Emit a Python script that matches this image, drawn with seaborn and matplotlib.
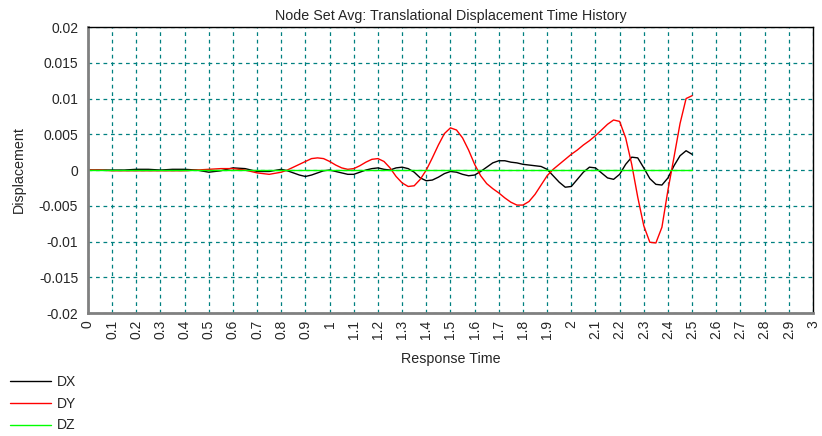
import numpy as np
import pandas as pd
import matplotlib
matplotlib.use("Agg")
import matplotlib.pyplot as plt
from matplotlib.ticker import FuncFormatter
import seaborn as sns

# time samples (s): coarse at the start, finer from 0.825 on
time = [0.0, 0.05, 0.1, 0.15, 0.2, 0.25, 0.3, 0.35, 0.4, 0.45,
        0.5, 0.55, 0.6, 0.65, 0.7, 0.75, 0.8,
        0.825, 0.85, 0.875, 0.9, 0.925, 0.95, 0.975, 1.0,
        1.025, 1.05, 1.075, 1.1, 1.125, 1.15, 1.175, 1.2,
        1.225, 1.25, 1.275, 1.3, 1.325, 1.35, 1.375, 1.4,
        1.425, 1.45, 1.475, 1.5, 1.525, 1.55, 1.575, 1.6,
        1.625, 1.65, 1.675, 1.7, 1.725, 1.75, 1.775, 1.8,
        1.825, 1.85, 1.875, 1.9, 1.925, 1.95, 1.975, 2.0,
        2.025, 2.05, 2.075, 2.1, 2.125, 2.15, 2.175, 2.2,
        2.225, 2.25, 2.275, 2.3, 2.325, 2.35, 2.375, 2.4,
        2.425, 2.45, 2.475, 2.5]

dx = [0.0, 0.0, 0.0, 0.0, 0.0001, 0.0001, 0.0, 0.0001, 0.0001, 0.0,
      -0.0003, -0.0001, 0.0003, 0.0002, -0.0002, -0.0002, 0.0001,
      -0.0001, -0.0004, -0.0007, -0.0009, -0.0007, -0.0004, -0.0001, 0.0,
      -0.0002, -0.0004, -0.0006, -0.0006, -0.0003, 0.0, 0.0002, 0.0003,
      0.0001, 0.0, 0.0003, 0.0004, 0.0002, -0.0003, -0.0011, -0.0015,
      -0.0014, -0.0010, -0.0005, -0.0002, -0.0003, -0.0006, -0.0008, -0.0007,
      -0.0002, 0.0004, 0.0010, 0.0013, 0.0013, 0.0011, 0.0010, 0.0008,
      0.0007, 0.0006, 0.0005, 0.0001, -0.0008, -0.0017, -0.0024, -0.0023,
      -0.0013, -0.0003, 0.0004, 0.0003, -0.0004, -0.0011, -0.0013, -0.0006,
      0.0008, 0.0018, 0.0017, 0.0003, -0.0012, -0.0020, -0.0021, -0.0011,
      0.0006, 0.0020, 0.0027, 0.0022]

dy = [0.0, 0.0, -0.0001, -0.0001, -0.0001, -0.0001, -0.0001, -0.0001, -0.0001, 0.0,
      0.0001, 0.0002, 0.0002, 0.0, -0.0004, -0.0006, -0.0003,
      0.0, 0.0004, 0.0008, 0.0012, 0.0016, 0.0017, 0.0016, 0.0012,
      0.0007, 0.0003, 0.0001, 0.0002, 0.0006, 0.0011, 0.0015, 0.0016,
      0.0012, 0.0003, -0.0009, -0.0018, -0.0023, -0.0022, -0.0013, 0.0,
      0.0017, 0.0035, 0.0051, 0.0059, 0.0056, 0.0045, 0.0028, 0.0008,
      -0.0008, -0.0019, -0.0026, -0.0032, -0.0039, -0.0045, -0.0049, -0.0049,
      -0.0044, -0.0034, -0.0021, -0.0008, 0.0001, 0.0008, 0.0015, 0.0022,
      0.0028, 0.0035, 0.0041, 0.0048, 0.0056, 0.0064, 0.0070, 0.0068,
      0.0045, 0.0008, -0.0038, -0.0078, -0.0101, -0.0102, -0.0080, -0.0028,
      0.0018, 0.0065, 0.0100, 0.0104]

dz = [0.0] * len(time)

series_names = ["DX", "DY", "DZ"]
series_colors = ["black", "red", "#00ff00"]

xticks = np.round(np.arange(0, 3.01, 0.1), 1)
yticks = np.round(np.arange(-0.02, 0.0201, 0.005), 3)

df = pd.DataFrame({
    "Response Time": time * 3,
    "Displacement": dx + dy + dz,
    "series": ["DX"] * len(time) + ["DY"] * len(time) + ["DZ"] * len(time),
})

sns.set_theme(style="white")
plt.rcParams['font.family'] = ['Liberation Sans', 'DejaVu Sans']

fig = plt.figure(figsize=(8.22, 4.36), dpi=100)
ax = fig.add_axes([0.107, 0.282, 0.882, 0.656])

sns.lineplot(data=df, x="Response Time", y="Displacement", hue="series",
             hue_order=series_names, palette=series_colors, linewidth=1.0,
             ax=ax, legend=False, sort=False, estimator=None)

ax.set_xlim(0, 3)
ax.set_ylim(-0.02, 0.02)
ax.set_xticks(xticks)
ax.set_yticks(yticks)
ax.xaxis.set_major_formatter(FuncFormatter(lambda v, p: f"{v:g}"))
ax.yaxis.set_major_formatter(FuncFormatter(lambda v, p: f"{v:g}"))
ax.tick_params(axis='x', labelrotation=90, labelsize=10, direction='in',
               color='blue', length=3, pad=5)
ax.tick_params(axis='y', labelsize=10, direction='in', color='blue', length=3, pad=7)

ax.grid(True, color='#008080', linestyle=(0, (3, 3)), linewidth=0.9)
ax.set_axisbelow(True)

for side in ['left', 'bottom']:
    ax.spines[side].set_color('#808080')
    ax.spines[side].set_linewidth(2)
for side in ['top', 'right']:
    ax.spines[side].set_color('black')
    ax.spines[side].set_linewidth(1)

ax.set_title("Node Set Avg: Translational Displacement Time History", fontsize=10.3, pad=5)
ax.set_xlabel("Response Time", fontsize=10.3, labelpad=9)
ax.set_ylabel("Displacement", fontsize=10.3, labelpad=9)

handles = [plt.Line2D([], [], color=c, linewidth=1.0) for c in series_colors]
fig.legend(handles, series_names, loc='upper left', bbox_to_anchor=(0.0, 0.162),
           frameon=False, fontsize=10, handlelength=3.0, labelspacing=0.55,
           handletextpad=0.4, borderaxespad=0.3)

fig.savefig("out.png", dpi=100)
